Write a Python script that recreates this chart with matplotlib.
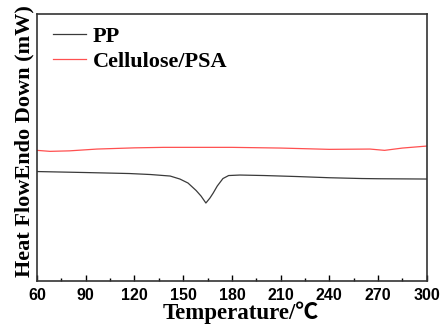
import numpy as np
import matplotlib
matplotlib.use("Agg")
import matplotlib.pyplot as plt
from matplotlib.ticker import MultipleLocator

# -----------------------------
# DATA (arbitrary heat flow units)
# -----------------------------
pp_temp = [60, 90, 117, 130, 142, 148, 153, 158, 161, 164, 166.5, 168.5,
           171, 174.5, 178, 185, 200, 220, 240, 260, 270, 300]
pp_flow = [109.5, 108.5, 107.5, 106.5, 105, 102, 98, 90.5, 85, 78, 83, 88,
           95, 102.5, 105.5, 106, 105.5, 104.5, 103.3, 102.5, 102.3, 102]

cp_temp = [60, 68, 80, 97, 120, 138, 180, 210, 240, 265, 274, 285, 300]
cp_flow = [130.7, 129.7, 130.2, 132, 133.2, 133.7, 133.7, 133, 131.7, 132,
           130.7, 133, 135]

labels = ["PP", "Cellulose/PSA"]
xticks = [60, 90, 120, 150, 180, 210, 240, 270, 300]

# -----------------------------
# PLOT
# -----------------------------
fig = plt.figure(figsize=(4.4, 3.29), dpi=100)
ax = fig.add_axes([0.084, 0.146, 0.886, 0.811])

ax.plot(pp_temp, pp_flow, color="#3a3a3a", lw=0.9, label=labels[0])
ax.plot(cp_temp, cp_flow, color="#ff5050", lw=0.9, label=labels[1])

ax.set_xlim(60, 300)
ax.set_ylim(0, 267)
ax.set_xticks(xticks)
ax.xaxis.set_minor_locator(MultipleLocator(15))
ax.set_yticks([])
ax.tick_params(axis="x", which="major", direction="in", length=4, width=1,
               labelsize=11.5, pad=5)
ax.tick_params(axis="x", which="minor", direction="in", length=2.5, width=1)
for lab in ax.get_xticklabels():
    lab.set_family("Liberation Sans")
    lab.set_fontweight("bold")

for sp in ax.spines.values():
    sp.set_linewidth(1.2)
    sp.set_color("#333333")

ax.set_xlabel("Temperature/℃", family=["Liberation Serif", "Noto Sans CJK SC"],
              fontweight="bold", fontsize=16.5, labelpad=-1)
ax.xaxis.label.set_x(0.523)
ax.set_ylabel("Heat FlowEndo Down (mW)", family="Liberation Serif",
              fontweight="bold", fontsize=16, labelpad=2)
ax.yaxis.label.set_y(0.525)

ax.legend(loc="upper left", bbox_to_anchor=(0.0, 1.012), frameon=False,
          prop={"family": "Liberation Serif", "weight": "bold", "size": 16},
          handlelength=1.5, handletextpad=0.3, labelspacing=0.2,
          borderaxespad=0.4, borderpad=0.3)

fig.savefig("out.png", dpi=100)
